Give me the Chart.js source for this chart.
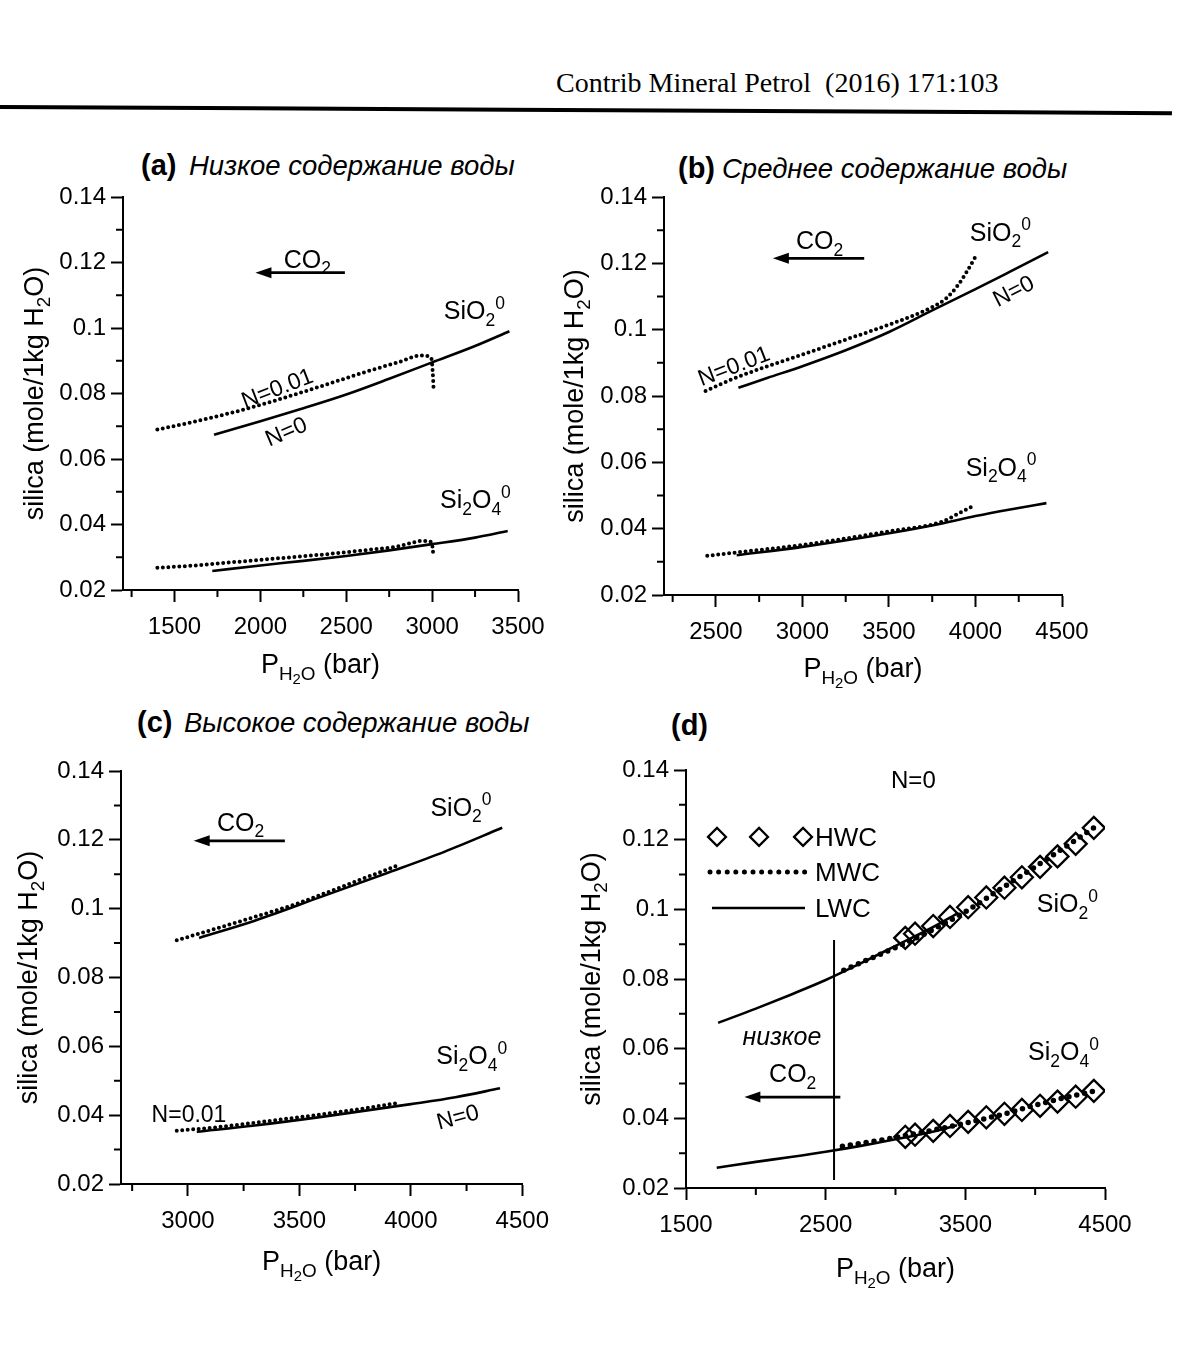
<!DOCTYPE html>
<html><head><meta charset="utf-8">
<script src="https://cdn.jsdelivr.net/npm/chart.js@4/dist/chart.umd.min.js"></script>
<style>
html,body{margin:0;padding:0;background:#fff;}
body{width:1182px;height:1352px;position:relative;overflow:hidden;font-family:'Liberation Sans',Arial,sans-serif;color:#000;}
canvas{position:absolute;}
.t{position:absolute;white-space:pre;line-height:1;}
.hdr{font-family:'Liberation Serif','Times New Roman',serif;font-size:28px;}
.pb{font-weight:bold;font-size:29px;}
.pi{font-style:italic;font-size:27.5px;}
.rule{position:absolute;left:0;top:105px;width:1172px;height:4px;background:#000;transform:rotate(0.3deg);transform-origin:0 0;}
</style></head><body>
<div class="t hdr" style="left:556px;top:69px;">Contrib Mineral Petrol  (2016) 171:103</div>
<div class="rule"></div>
<div class="t pb" style="left:141px;top:151px;">(a)</div><div class="t pi" style="left:189px;top:152px;">Низкое содержание воды</div>
<div class="t pb" style="left:678px;top:154px;">(b)</div><div class="t pi" style="left:722px;top:155px;">Среднее содержание воды</div>
<div class="t pb" style="left:137px;top:708px;">(c)</div><div class="t pi" style="left:184px;top:709px;">Высокое содержание воды</div>
<div class="t pb" style="left:671px;top:711px;">(d)</div>
<canvas id="ca" width="560" height="580" style="left:0px;top:130px;"></canvas>
<canvas id="cb" width="637" height="580" style="left:545px;top:130px;"></canvas>
<canvas id="cc" width="560" height="600" style="left:0px;top:710px;"></canvas>
<canvas id="cd" width="637" height="600" style="left:545px;top:710px;"></canvas>
<script>
// ---------------- DATA (P in bar, silica in mole/1kg H2O) ----------------
// (a) low water content
const A_SIO2_N0_P   = [1730, 2000, 2250, 2500, 2750, 3000, 3250, 3450];
const A_SIO2_N0_C   = [0.0674, 0.0715, 0.0755, 0.0797, 0.0845, 0.0895, 0.0945, 0.0990];
const A_SIO2_N001_P = [1400, 1600, 1800, 2000, 2200, 2400, 2600, 2800, 2940, 2995, 3004, 3008];
const A_SIO2_N001_C = [0.0690, 0.0712, 0.0737, 0.0765, 0.0797, 0.0830, 0.0864, 0.0895, 0.0916, 0.0908, 0.0860, 0.0818];
const A_SI2O4_N0_P   = [1720, 2000, 2250, 2500, 2750, 3000, 3250, 3440];
const A_SI2O4_N0_C   = [0.0258, 0.0275, 0.0289, 0.0304, 0.0321, 0.0340, 0.0360, 0.0380];
const A_SI2O4_N001_P = [1400, 1600, 1800, 2000, 2200, 2400, 2600, 2800, 2950, 2998, 3004, 3008];
const A_SI2O4_N001_C = [0.0268, 0.0274, 0.0283, 0.0292, 0.0301, 0.0310, 0.0321, 0.0333, 0.0350, 0.0346, 0.0322, 0.0302];
// (b) medium water content
const B_SIO2_N0_P   = [2630, 2800, 3000, 3250, 3500, 3750, 4000, 4200, 4420];
const B_SIO2_N0_C   = [0.0825, 0.0855, 0.0890, 0.0938, 0.0993, 0.1058, 0.1122, 0.1175, 0.1234];
const B_SIO2_N001_P = [2440, 2600, 2800, 3000, 3250, 3500, 3750, 3830, 3900, 3950, 4000];
const B_SIO2_N001_C = [0.0815, 0.0852, 0.0890, 0.0925, 0.0970, 0.1015, 0.1068, 0.1094, 0.1135, 0.1175, 0.1220];
const B_SI2O4_N0_P   = [2620, 3000, 3500, 3800, 4000, 4200, 4410];
const B_SI2O4_N0_C   = [0.0320, 0.0345, 0.0386, 0.0415, 0.0438, 0.0458, 0.0477];
const B_SI2O4_N001_P = [2450, 2650, 3000, 3500, 3800, 3900, 4000];
const B_SI2O4_N001_C = [0.0318, 0.0330, 0.0351, 0.0392, 0.0420, 0.0445, 0.0472];
// (c) high water content
const C_SIO2_N0_P   = [3050, 3300, 3600, 3900, 4150, 4410];
const C_SIO2_N0_C   = [0.0915, 0.0965, 0.1035, 0.1105, 0.1165, 0.1235];
const C_SIO2_N001_P = [2950, 3100, 3300, 3500, 3700, 3950];
const C_SIO2_N001_C = [0.0908, 0.0937, 0.0976, 0.1017, 0.1066, 0.1128];
const C_SI2O4_N0_P   = [3040, 3300, 3600, 4000, 4200, 4400];
const C_SI2O4_N0_C   = [0.0352, 0.0370, 0.0395, 0.0432, 0.0452, 0.0478];
const C_SI2O4_N001_P = [2950, 3100, 3400, 3700, 3950];
const C_SI2O4_N001_C = [0.0355, 0.0363, 0.0386, 0.0411, 0.0436];
// (d) N=0 comparison: HWC diamonds (LWC = panel a N=0, MWC = panel b N=0)
const D_HWC_P       = [3070, 3140, 3270, 3390, 3520, 3650, 3780, 3905, 4035, 4160, 4290, 4420];
const D_HWC_SIO2_C  = [0.0918, 0.0930, 0.0952, 0.0978, 0.1006, 0.1034, 0.1062, 0.1092, 0.1122, 0.1152, 0.1188, 0.1234];
const D_HWC_SI2O4_C = [0.0347, 0.0353, 0.0364, 0.0378, 0.0390, 0.0403, 0.0413, 0.0424, 0.0436, 0.0448, 0.0462, 0.0479];
const D_LIMIT_P     = [2560, 2560];
const D_LIMIT_C     = [0.0223, 0.0912];
// ticks
const Y_TICKS      = [0.02, 0.04, 0.06, 0.08, 0.10, 0.12, 0.14];
const Y_TICK_TEXT  = ['0.02', '0.04', '0.06', '0.08', '0.1', '0.12', '0.14'];
const Y_MINOR      = [0.03, 0.05, 0.07, 0.09, 0.11, 0.13];
const A_XTICKS = [1500, 2000, 2500, 3000, 3500];       const A_XMINOR = [1250, 1750, 2250, 2750, 3250];
const B_XTICKS = [2500, 3000, 3500, 4000, 4500];       const B_XMINOR = [2250, 2750, 3250, 3750, 4250];
const C_XTICKS = [3000, 3500, 4000, 4500];             const C_XMINOR = [2750, 3250, 3750, 4250];
const D_XTICKS = [1500, 2500, 3500, 4500];             const D_XMINOR = [2000, 3000, 4000];

// ---------------- helpers ----------------
const SANS = "'Liberation Sans',Arial,sans-serif";
Chart.defaults.font.family = SANS;
Chart.defaults.color = '#000';

const SIO2 = [['SiO','n'],['2','b'],['0','p']];
const SI2O4 = [['Si','n'],['2','b'],['O','n'],['4','b'],['0','p']];
const CO2 = [['CO','n'],['2','b']];
const YT = [['silica (mole/1kg H','n'],['2','b'],['O)','n']];
const XT = [['P','n'],['H','b'],['2','bb'],['O','b'],[' (bar)','n']];

function drawRich(ctx, segs, x, y, size, o) {
  o = o || {};
  const fam = o.family || SANS;
  const st = o.italic ? 'italic ' : '';
  let w = 0;
  const parts = segs.map(([t, k]) => {
    const s = k === 'n' ? size : (k === 'bb' ? size * 0.55 : size * 0.7);
    const dy = k === 'b' ? size * 0.26 : k === 'bb' ? size * 0.42 : k === 'p' ? -size * 0.42 : 0;
    ctx.font = st + s + 'px ' + fam;
    const p = {t, s, dy, x: w};
    w += ctx.measureText(t).width;
    return p;
  });
  ctx.save();
  ctx.translate(x, y);
  if (o.rot) ctx.rotate(o.rot * Math.PI / 180);
  const x0 = o.align === 'left' ? 0 : o.align === 'right' ? -w : -w / 2;
  ctx.textBaseline = 'alphabetic';
  ctx.fillStyle = '#000';
  const base = size * 0.36;
  parts.forEach(p => { ctx.font = st + p.s + 'px ' + fam; ctx.fillText(p.t, x0 + p.x, base + p.dy); });
  ctx.restore();
}

function pts(P, C) { return P.map((p, i) => ({x: p, y: C[i]})); }
function solid(P, C) {
  return {data: pts(P, C), showLine: true, borderColor: '#000', borderWidth: 2.6, pointRadius: 0, cubicInterpolationMode: 'monotone', fill: false};
}
function dotted(P, C, w, gap) {
  return {data: pts(P, C), showLine: true, borderColor: '#000', borderWidth: w || 4, borderDash: [0, gap || 5.5], borderCapStyle: 'round', pointRadius: 0, cubicInterpolationMode: 'monotone', fill: false};
}

function makeDeco(cfg) {
  return {
    id: 'deco',
    afterDraw(chart) {
      const ctx = chart.ctx, a = chart.chartArea, xs = chart.scales.x, ys = chart.scales.y;
      ctx.save();
      ctx.strokeStyle = '#000'; ctx.lineWidth = 2;
      ctx.beginPath();
      cfg.xMinor.forEach(v => { const px = xs.getPixelForValue(v); ctx.moveTo(px, a.bottom); ctx.lineTo(px, a.bottom + 7); });
      Y_MINOR.forEach(v => { const py = ys.getPixelForValue(v); ctx.moveTo(a.left, py); ctx.lineTo(a.left - 7, py); });
      ctx.stroke();
      drawRich(ctx, YT, a.left - cfg.yTitleOff, (a.top + a.bottom) / 2, 27, {rot: -90});
      drawRich(ctx, XT, (a.left + a.right) / 2, a.bottom + cfg.xTitleOff, 27, {});
      (cfg.arrows || []).forEach(ar => {
        const x1 = xs.getPixelForValue(ar.x1), x2 = xs.getPixelForValue(ar.x2), py = ys.getPixelForValue(ar.y);
        ctx.lineWidth = 2.6; ctx.beginPath(); ctx.moveTo(x1, py); ctx.lineTo(x2 + 10, py); ctx.stroke();
        ctx.fillStyle = '#000'; ctx.beginPath(); ctx.moveTo(x2, py); ctx.lineTo(x2 + 16, py - 5.5); ctx.lineTo(x2 + 16, py + 5.5); ctx.closePath(); ctx.fill();
      });
      (cfg.texts || []).forEach(t => drawRich(ctx, t.segs, xs.getPixelForValue(t.x), ys.getPixelForValue(t.y), t.size || 23, t));
      (cfg.legend || []).forEach(L => {
        const py = ys.getPixelForValue(L.y);
        ctx.strokeStyle = '#000'; ctx.setLineDash([]);
        if (L.kind === 'diamond') {
          ctx.lineWidth = 2.2;
          L.xs.forEach(v => { const px = xs.getPixelForValue(v), r = 9; ctx.beginPath(); ctx.moveTo(px - r, py); ctx.lineTo(px, py - r); ctx.lineTo(px + r, py); ctx.lineTo(px, py + r); ctx.closePath(); ctx.stroke(); });
        } else if (L.kind === 'dots') {
          ctx.lineWidth = 5; ctx.lineCap = 'round'; ctx.setLineDash([0, 8.6]);
          ctx.beginPath(); ctx.moveTo(xs.getPixelForValue(L.x1), py); ctx.lineTo(xs.getPixelForValue(L.x2), py); ctx.stroke();
          ctx.setLineDash([]); ctx.lineCap = 'butt';
        } else {
          ctx.lineWidth = 2.6; ctx.beginPath(); ctx.moveTo(xs.getPixelForValue(L.x1), py); ctx.lineTo(xs.getPixelForValue(L.x2), py); ctx.stroke();
        }
        drawRich(ctx, [[L.label, 'n']], xs.getPixelForValue(L.tx), py, 26, {align: 'left'});
      });
      ctx.restore();
    }
  };
}

function makeChart(id, cfg) {
  return new Chart(document.getElementById(id), {
    type: 'scatter',
    data: {datasets: cfg.datasets},
    options: {
      responsive: false, animation: false, events: [],
      layout: {padding: cfg.pad},
      plugins: {legend: {display: false}, tooltip: {enabled: false}},
      scales: {
        x: {
          type: 'linear', min: cfg.xmin, max: cfg.xmax,
          afterBuildTicks: s => { s.ticks = cfg.xTicks.map(v => ({value: v})); },
          afterFit: s => { s.height = 60; },
          ticks: {autoSkip: false, maxRotation: 0, padding: 11, font: {family: SANS, size: 24}, color: '#000', callback: v => String(v)},
          grid: {drawOnChartArea: false, drawTicks: true, tickLength: 12, tickWidth: 2, tickColor: '#000'},
          border: {display: true, color: '#000', width: 2}
        },
        y: {
          type: 'linear', min: 0.02, max: 0.14,
          afterBuildTicks: s => { s.ticks = Y_TICKS.map(v => ({value: v})); },
          afterFit: s => { s.width = 80; },
          ticks: {autoSkip: false, padding: 5, font: {family: SANS, size: 24}, color: '#000', callback: (v, i) => Y_TICK_TEXT[i]},
          grid: {drawOnChartArea: false, drawTicks: true, tickLength: 12, tickWidth: 2, tickColor: '#000'},
          border: {display: true, color: '#000', width: 2}
        }
      }
    },
    plugins: [makeDeco(cfg)]
  });
}

// (a)
makeChart('ca', {
  pad: {left: 43, top: 67, right: 42, bottom: 60},
  xmin: 1200, xmax: 3500, xTicks: A_XTICKS, xMinor: A_XMINOR, yTitleOff: 90, xTitleOff: 73,
  datasets: [
    dotted(A_SIO2_N001_P, A_SIO2_N001_C), solid(A_SIO2_N0_P, A_SIO2_N0_C),
    dotted(A_SI2O4_N001_P, A_SI2O4_N001_C), solid(A_SI2O4_N0_P, A_SI2O4_N0_C)
  ],
  arrows: [{x1: 2492, x2: 1971, y: 0.1169}],
  texts: [
    {segs: CO2, x: 2273, y: 0.1212, size: 25},
    {segs: SIO2, x: 3246, y: 0.1054, size: 25},
    {segs: [['N=0.01','n']], x: 2096, y: 0.0819, rot: -21},
    {segs: [['N=0','n']], x: 2148, y: 0.0686, rot: -23},
    {segs: SI2O4, x: 3252, y: 0.0477, size: 25}
  ]
});
// (b)
makeChart('cb', {
  pad: {left: 39, top: 67, right: 120, bottom: 55},
  xmin: 2200, xmax: 4500, xTicks: B_XTICKS, xMinor: B_XMINOR, yTitleOff: 91, xTitleOff: 72,
  datasets: [
    dotted(B_SIO2_N001_P, B_SIO2_N001_C), solid(B_SIO2_N0_P, B_SIO2_N0_C),
    dotted(B_SI2O4_N001_P, B_SI2O4_N001_C), solid(B_SI2O4_N0_P, B_SI2O4_N0_C)
  ],
  arrows: [{x1: 3357, x2: 2829, y: 0.1215}],
  texts: [
    {segs: CO2, x: 3099, y: 0.1270, size: 25},
    {segs: SIO2, x: 4144, y: 0.1295, size: 25},
    {segs: [['N=0','n']], x: 4217, y: 0.1119, rot: -27},
    {segs: [['N=0.01','n']], x: 2602, y: 0.0893, rot: -21},
    {segs: SI2O4, x: 4148, y: 0.0586, size: 25}
  ]
});
// (c)
makeChart('cc', {
  pad: {left: 41, top: 61, right: 29, bottom: 66},
  xmin: 2700, xmax: 4500, xTicks: C_XTICKS, xMinor: C_XMINOR, yTitleOff: 94, xTitleOff: 76,
  datasets: [
    dotted(C_SIO2_N001_P, C_SIO2_N001_C), solid(C_SIO2_N0_P, C_SIO2_N0_C),
    dotted(C_SI2O4_N001_P, C_SI2O4_N001_C), solid(C_SI2O4_N0_P, C_SI2O4_N0_C)
  ],
  arrows: [{x1: 3435, x2: 3026, y: 0.1197}],
  texts: [
    {segs: CO2, x: 3236, y: 0.1253, size: 25},
    {segs: SIO2, x: 4225, y: 0.1296, size: 25},
    {segs: SI2O4, x: 4273, y: 0.0574, size: 25},
    {segs: [['N=0.01','n']], x: 3005, y: 0.0405},
    {segs: [['N=0','n']], x: 4209, y: 0.0397, rot: -15}
  ]
});
// (d)
const hwc = (C) => ({data: pts(D_HWC_P, C), showLine: false, pointStyle: 'rectRot', pointRadius: 11, pointBorderWidth: 2.3, pointBorderColor: '#000', pointBackgroundColor: 'rgba(0,0,0,0)'});
makeChart('cd', {
  pad: {left: 61, top: 60, right: 77, bottom: 62},
  xmin: 1500, xmax: 4500, xTicks: D_XTICKS, xMinor: D_XMINOR, yTitleOff: 96, xTitleOff: 79,
  datasets: [
    dotted(B_SIO2_N0_P, B_SIO2_N0_C, 5.5, 8), dotted(B_SI2O4_N0_P, B_SI2O4_N0_C, 5.5, 8),
    hwc(D_HWC_SIO2_C), hwc(D_HWC_SI2O4_C),
    solid(A_SIO2_N0_P, A_SIO2_N0_C), solid(A_SI2O4_N0_P, A_SI2O4_N0_C),
    {data: pts(D_LIMIT_P, D_LIMIT_C), showLine: true, borderColor: '#000', borderWidth: 2, pointRadius: 0}
  ],
  arrows: [{x1: 2605, x2: 1918, y: 0.0461}],
  texts: [
    {segs: [['N=0','n']], x: 3128, y: 0.1374, size: 24},
    {segs: SIO2, x: 4231, y: 0.1017, size: 25},
    {segs: SI2O4, x: 4203, y: 0.0592, size: 25},
    {segs: [['низкое','n']], x: 2187, y: 0.0635, italic: true, size: 25},
    {segs: CO2, x: 2264, y: 0.0530, size: 25}
  ],
  legend: [
    {kind: 'diamond', xs: [1722, 2023, 2338], y: 0.1208, tx: 2424, label: 'HWC'},
    {kind: 'dots', x1: 1672, x2: 2352, y: 0.1107, tx: 2424, label: 'MWC'},
    {kind: 'line', x1: 1686, x2: 2352, y: 0.1004, tx: 2424, label: 'LWC'}
  ]
});
</script>
</body></html>
